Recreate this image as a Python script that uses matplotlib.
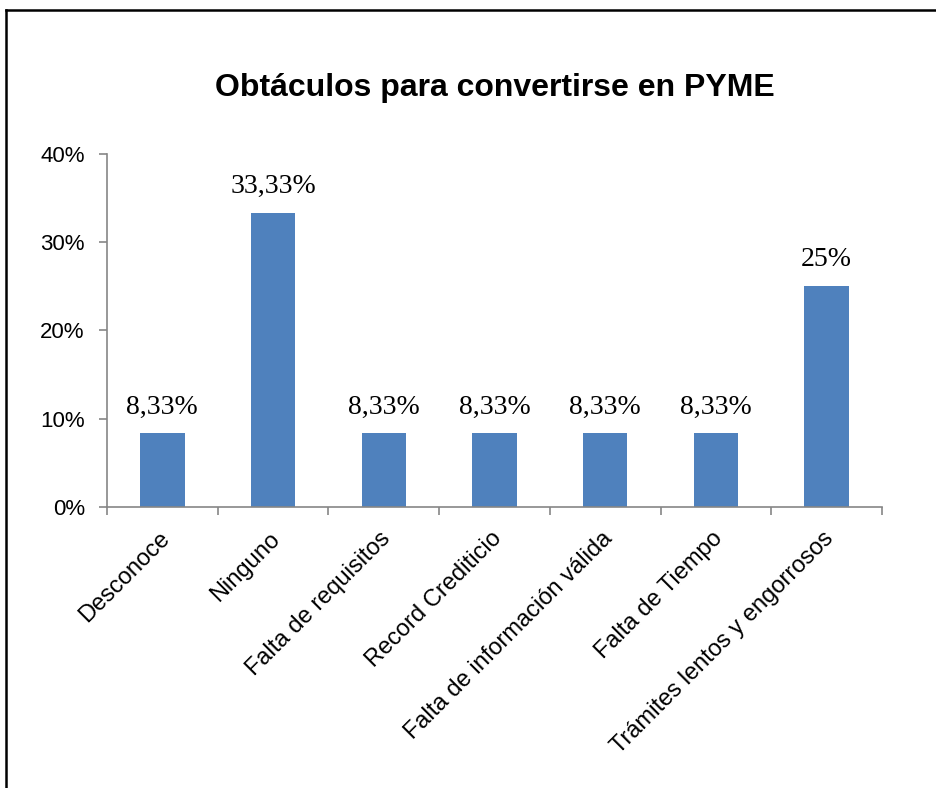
import matplotlib.pyplot as plt
from matplotlib.lines import Line2D
from matplotlib.ticker import FuncFormatter

categories = [
    "Desconoce",
    "Ninguno",
    "Falta de requisitos",
    "Record Crediticio",
    "Falta de información válida",
    "Falta de Tiempo",
    "Trámites lentos y engorrosos",
]
values = [8.33, 33.33, 8.33, 8.33, 8.33, 8.33, 25.0]
value_labels = ["8,33%", "33,33%", "8,33%", "8,33%", "8,33%", "8,33%", "25%"]
y_ticks = [0, 10, 20, 30, 40]

BAR_COLOR = "#4F81BD"
AXIS_COLOR = "#868686"


def main() -> None:
    plt.rcParams["font.family"] = ["Liberation Sans", "DejaVu Sans"]

    fig = plt.figure(figsize=(9.37, 7.88), dpi=100)
    ax = fig.add_axes([0.1142, 0.3566, 0.8271, 0.448])

    x = list(range(len(categories)))
    bars = ax.bar(x, values, width=0.4, color=BAR_COLOR, zorder=2)

    for bar, text in zip(bars, value_labels):
        ax.annotate(
            text,
            (bar.get_x() + bar.get_width() / 2, bar.get_height()),
            xytext=(0, 10),
            textcoords="offset points",
            ha="center",
            va="bottom",
            fontsize=20,
            family="Liberation Serif",
        )

    ax.set_xlim(-0.5, len(categories) - 0.5)
    ax.set_ylim(0, 40)
    ax.set_yticks(y_ticks)
    ax.yaxis.set_major_formatter(FuncFormatter(lambda v, _: f"{v:.0f}%"))
    ax.tick_params(axis="y", labelsize=16, length=6, color=AXIS_COLOR, width=1.2, pad=10)

    # category boundaries carry the ticks, labels sit at centers
    ax.set_xticks([i - 0.5 for i in range(len(categories) + 1)])
    ax.set_xticklabels([])
    ax.tick_params(axis="x", length=6, color=AXIS_COLOR, width=1.2)
    for i, name in enumerate(categories):
        ax.annotate(
            name,
            (i, 0),
            xytext=(-3, -15),
            textcoords="offset points",
            rotation=45,
            rotation_mode="anchor",
            ha="right",
            va="top",
            fontsize=17,
            annotation_clip=False,
        )

    for side in ("top", "right"):
        ax.spines[side].set_visible(False)
    for side in ("left", "bottom"):
        ax.spines[side].set_color(AXIS_COLOR)
        ax.spines[side].set_linewidth(1.2)

    fig.text(0.528, 0.888, "Obtáculos para convertirse en PYME",
             ha="center", va="center", fontsize=23, fontweight="bold")

    # outer frame: only top and left edges are visible in the crop
    fig.add_artist(Line2D([6.5 / 937, 6.5 / 937], [0, 1 - 10 / 788],
                          transform=fig.transFigure, color="black", lw=1.8))
    fig.add_artist(Line2D([6 / 937, 1], [1 - 10 / 788, 1 - 10 / 788],
                          transform=fig.transFigure, color="black", lw=1.8))

    fig.savefig("out.png", dpi=100)


if __name__ == "__main__":
    main()
